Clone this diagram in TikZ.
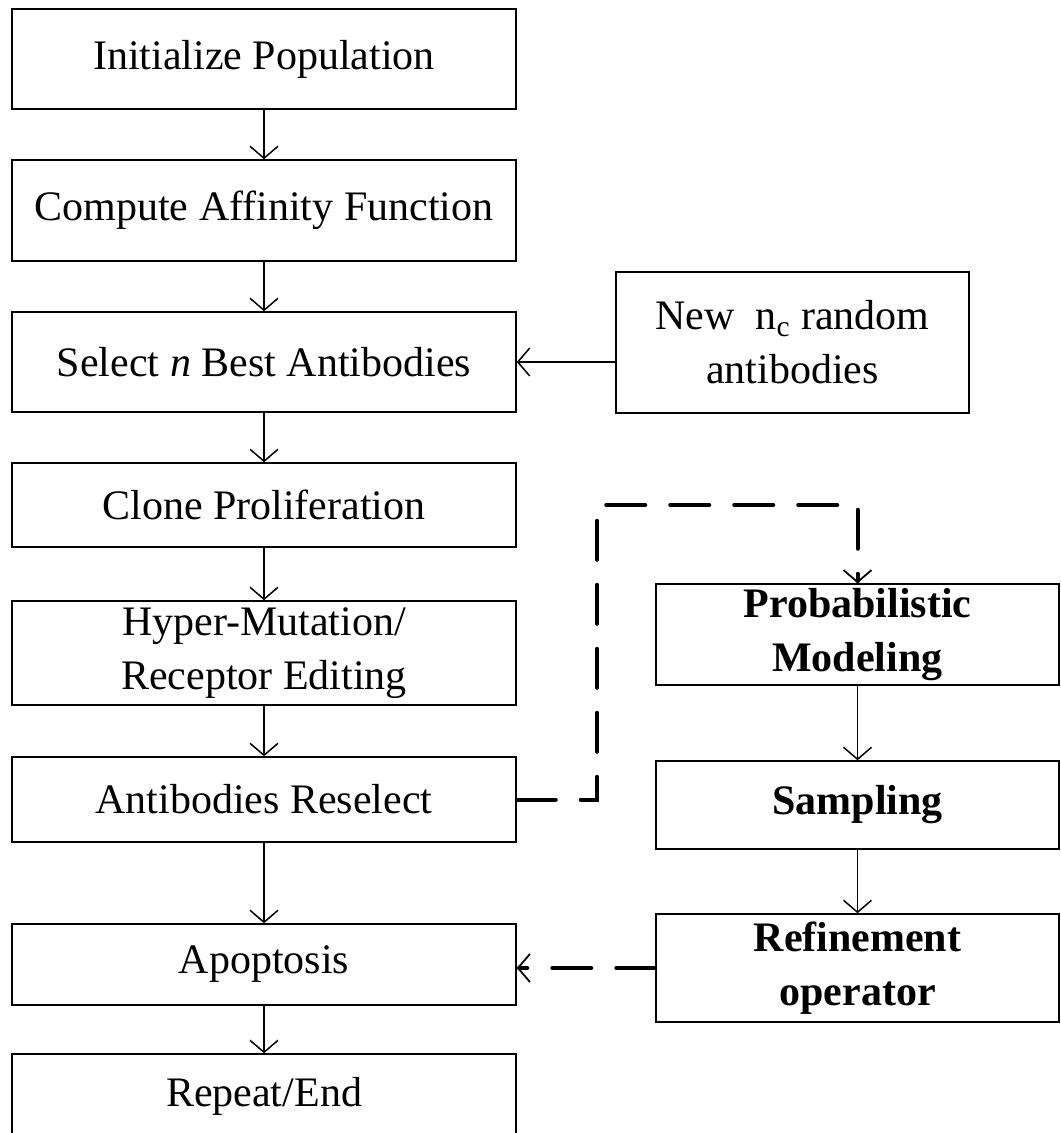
\documentclass[tikz,border=0pt]{standalone}
\usepackage{fontspec}
\setmainfont{Liberation Serif}
\usetikzlibrary{arrows.meta}

\begin{document}
\begin{tikzpicture}[
    x=0.5pt, y=-0.5pt,
    % --- CAJAS: texto en serif y borde fino ---
    caja/.style={rectangle, draw=black, line width=0.75pt, inner sep=0pt, align=center, font=\fontsize{21}{27}\selectfont},
    cajaIzq/.style={caja, minimum width=252pt},
    cajaDer/.style={caja, minimum width=201.5pt, font=\fontsize{21}{27}\selectfont\bfseries},
    % --- FLECHAS: continua fina y discontinua gruesa ---
    flecha/.style={-{Straight Barb[length=6pt, width=14pt]}, line width=0.75pt},
    flechaDiscontinua/.style={-{Straight Barb[length=6pt, width=14pt, line width=0.9pt]}, line width=2pt, line cap=round, dash pattern=on 19.5pt off 12.5pt}
]
    \useasboundingbox (0,0) rectangle (1060,1133);

    % --- COLUMNA IZQUIERDA ---
    \node[cajaIzq, minimum height=50pt]   (init)   at (264,59)    {Initialize Population};
    \node[cajaIzq, minimum height=50.5pt] (comp)   at (264,210.5) {Compute Affinity Function};
    \node[cajaIzq, minimum height=50pt]   (sel)    at (264,362)   {Select \textit{n} Best Antibodies};
    \node[cajaIzq, minimum height=42pt]   (clone)  at (264,505)   {Clone Proliferation};
    \node[cajaIzq, minimum height=52pt]   (hyper)  at (264,653)   {Hyper-Mutation/\\Receptor Editing};
    \node[cajaIzq, minimum height=42.5pt] (resel)  at (264,799.5) {Antibodies Reselect};
    \node[cajaIzq, minimum height=40.5pt] (apop)   at (264,964.5) {Apoptosis};
    \node[cajaIzq, minimum height=42pt]   (repeat) at (264,1096)  {Repeat/End};

    % --- COLUMNA DERECHA ---
    \node[caja, minimum width=176.5pt, minimum height=70.5pt] (new) at (792.5,342.5) {New~~n\textsubscript{c} random\\antibodies};
    \node[cajaDer, minimum height=50.5pt] (prob)   at (857.5,634.5) {Probabilistic\\Modeling};
    \node[cajaDer, minimum height=44pt]   (samp)   at (857.5,805)   {Sampling};
    \node[cajaDer, minimum height=54pt]   (refine) at (857.5,968)   {Refinement\\operator};

    % --- FLUJO PRINCIPAL ---
    \draw[flecha] (init) -- (comp);
    \draw[flecha] (comp) -- (sel);
    \draw[flecha] (sel) -- (clone);
    \draw[flecha] (clone) -- (hyper);
    \draw[flecha] (hyper) -- (resel);
    \draw[flecha] (resel) -- (apop);
    \draw[flecha] (apop) -- (repeat);

    \draw[flecha] (new.west |- sel.east) -- (sel.east);

    \draw[flecha] (prob) -- (samp);
    \draw[flecha] (samp) -- (refine);

    % --- LAZO DISCONTINUO ---
    \coordinate (codo) at (597,505);
    \draw[flechaDiscontinua] (resel.east) -| (codo) -| (prob.north);
    \draw[flechaDiscontinua] (refine.west) -- (refine.west -| apop.east);

\end{tikzpicture}
\end{document}
